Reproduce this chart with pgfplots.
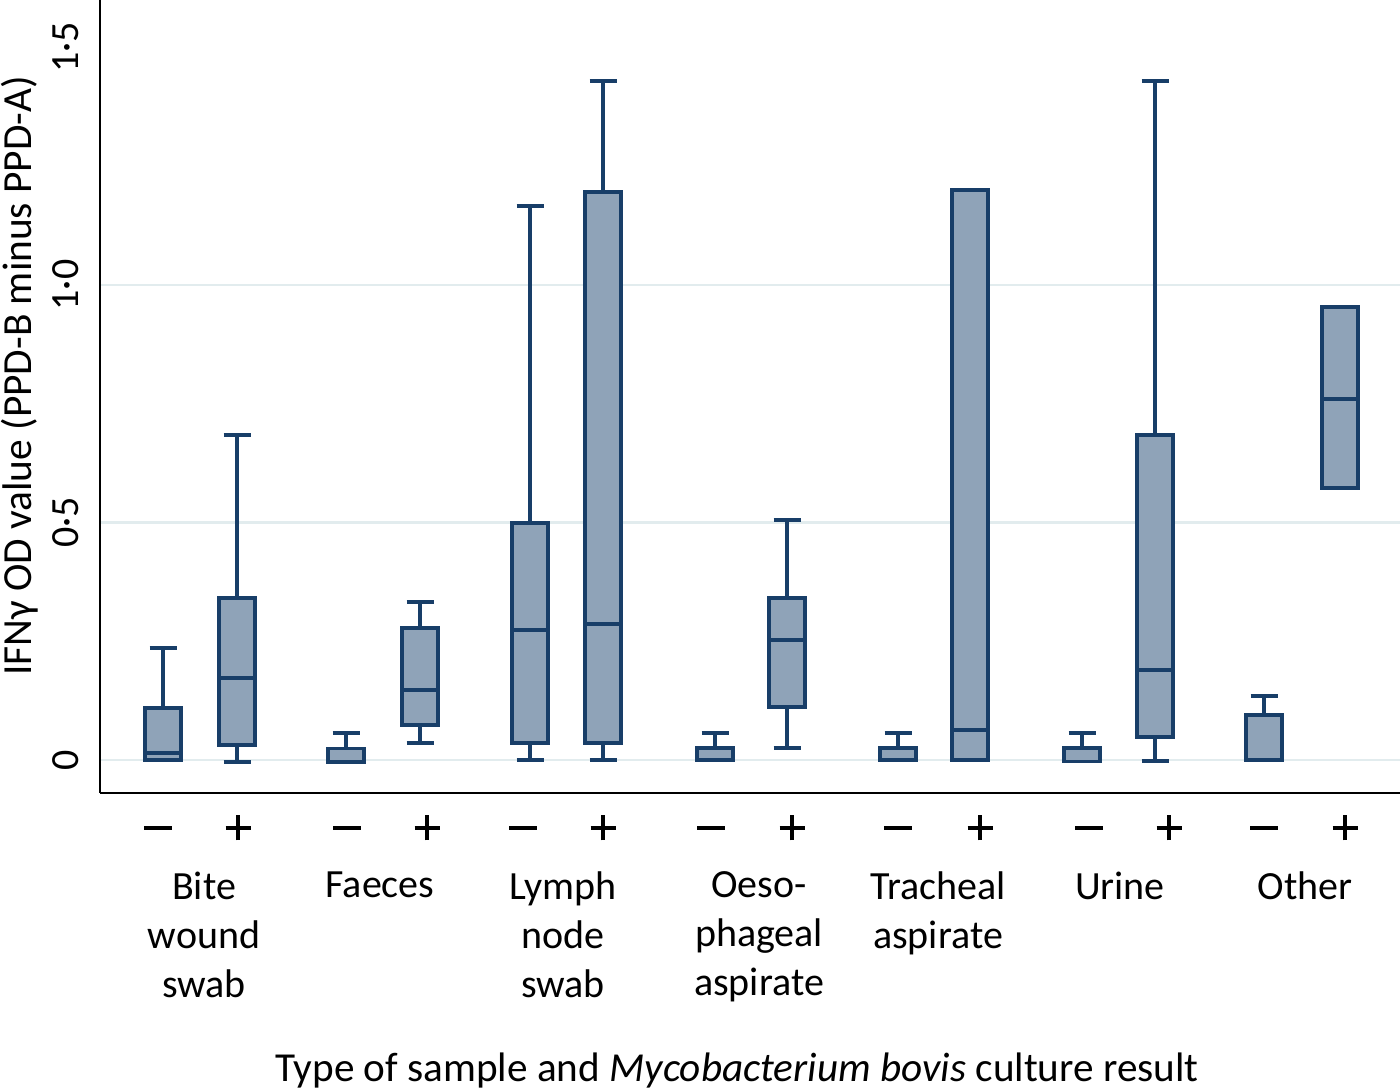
\documentclass[border=0pt]{standalone}
\usepackage{fontspec}
\setmainfont{Carlito}
\usepackage{pgfplots}
\pgfplotsset{compat=1.18}

\definecolor{boxfill}{RGB}{143,163,184}
\definecolor{boxedge}{RGB}{24,62,104}
\definecolor{gridc}{RGB}{226,236,238}

\newcommand\mn{\rule{14pt}{2.2pt}}
\newcommand\pl{\rule{12.5pt}{2pt}\kern-7.25pt\rule[-5.25pt]{2pt}{12.5pt}\kern5.25pt}

% one box: position, lower whisker, lower quartile, median, upper quartile, upper whisker
\newcommand\bx[6]{%
  \pgfmathsetmacro\bxL{#1-0.18}\pgfmathsetmacro\bxR{#1+0.18}%
  \pgfmathsetmacro\capL{#1-0.135}\pgfmathsetmacro\capR{#1+0.135}%
  \addplot[fill=boxfill, draw=boxedge, line width=1.8pt]
    coordinates {(\bxL,#3) (\bxR,#3) (\bxR,#5) (\bxL,#5)} --cycle;
  \addplot[draw=boxedge, line width=1.8pt, unbounded coords=jump]
    coordinates {(#1,#5) (#1,#6) (#1,nan) (\capL,#6) (\capR,#6) (#1,nan)
                 (#1,#3) (#1,#2) (#1,nan) (\capL,#2) (\capR,#2) (#1,nan)
                 (\bxL,#4) (\bxR,#4)};}

\begin{document}
\fontsize{20}{24.5}\selectfont
\begin{tikzpicture}
\path[use as bounding box] (0,0) rectangle (700pt,545pt);
\begin{axis}[
  at={(50pt,148.5pt)}, anchor=south west,
  width=650pt, height=396.5pt, scale only axis,
  xmin=1.0, xmax=14.0,
  ymin=-0.0695, ymax=1.6,
  axis lines*=left,
  axis line style={line width=1.4pt, black},
  major tick length=0pt,
  ytick={0,0.5,1},
  yticklabels={0,0·5,1·0},
  extra y ticks={1.5},
  extra y tick labels={1·5},
  extra y tick style={grid=none},
  ymajorgrids,
  grid style={gridc, line width=1.2pt},
  yticklabel style={xshift=-17pt, rotate=90, anchor=center},
  xtick={1.58,2.38,3.47,4.27,5.23,6.03,7.11,7.92,8.98,9.80,10.89,11.69,12.64,13.45},
  xticklabels={\mn,\pl,\mn,\pl,\mn,\pl,\mn,\pl,\mn,\pl,\mn,\pl,\mn,\pl},
  xticklabel style={anchor=center, yshift=-17.5pt},
  extra x ticks={2.04,3.80,5.63,7.59,9.38,11.20,13.05},
  extra x tick labels={Bite\\wound\\swab,Faeces,Lymph\\node\\swab,Oeso-\\phageal\\aspirate,Tracheal\\aspirate,Urine,Other},
  extra x tick style={xticklabel style={anchor=north, align=center, yshift=-15pt,
    font=\fontsize{20}{24.5}\selectfont}},
  xlabel={Type of sample and \textit{Mycobacterium bovis} culture result},
  xlabel style={at={(axis description cs:0.49,0)}, anchor=center, yshift=-139pt,
    font=\fontsize{20.6}{24.5}\selectfont},
  ylabel={IFNγ OD value (PPD-B minus PPD-A)},
  ylabel style={at={(axis description cs:0,0.526)}, anchor=center, yshift=40pt,
    font=\fontsize{20.7}{24.5}\selectfont},
]
\bx{1.63}{0.000}{0.000}{0.015}{0.109}{0.236}
\bx{2.37}{-0.004}{0.032}{0.173}{0.341}{0.684}
\bx{3.46}{-0.004}{-0.004}{-0.003}{0.024}{0.057}
\bx{4.20}{0.036}{0.074}{0.147}{0.278}{0.333}
\bx{5.30}{0.000}{0.036}{0.274}{0.499}{1.166}
\bx{6.03}{0.000}{0.036}{0.286}{1.196}{1.430}
\bx{7.15}{0.000}{0.000}{0.000}{0.025}{0.057}
\bx{7.87}{0.025}{0.112}{0.253}{0.341}{0.505}
\bx{8.98}{0.000}{0.000}{0.000}{0.025}{0.057}
\bx{9.70}{0.000}{0.000}{0.063}{1.200}{1.200}
\bx{10.82}{-0.003}{-0.003}{-0.003}{0.025}{0.057}
\bx{11.55}{-0.002}{0.048}{0.189}{0.684}{1.430}
\bx{12.64}{0.000}{0.000}{0.000}{0.095}{0.135}
\bx{13.40}{0.573}{0.573}{0.760}{0.954}{0.954}
\end{axis}
\end{tikzpicture}
\end{document}
